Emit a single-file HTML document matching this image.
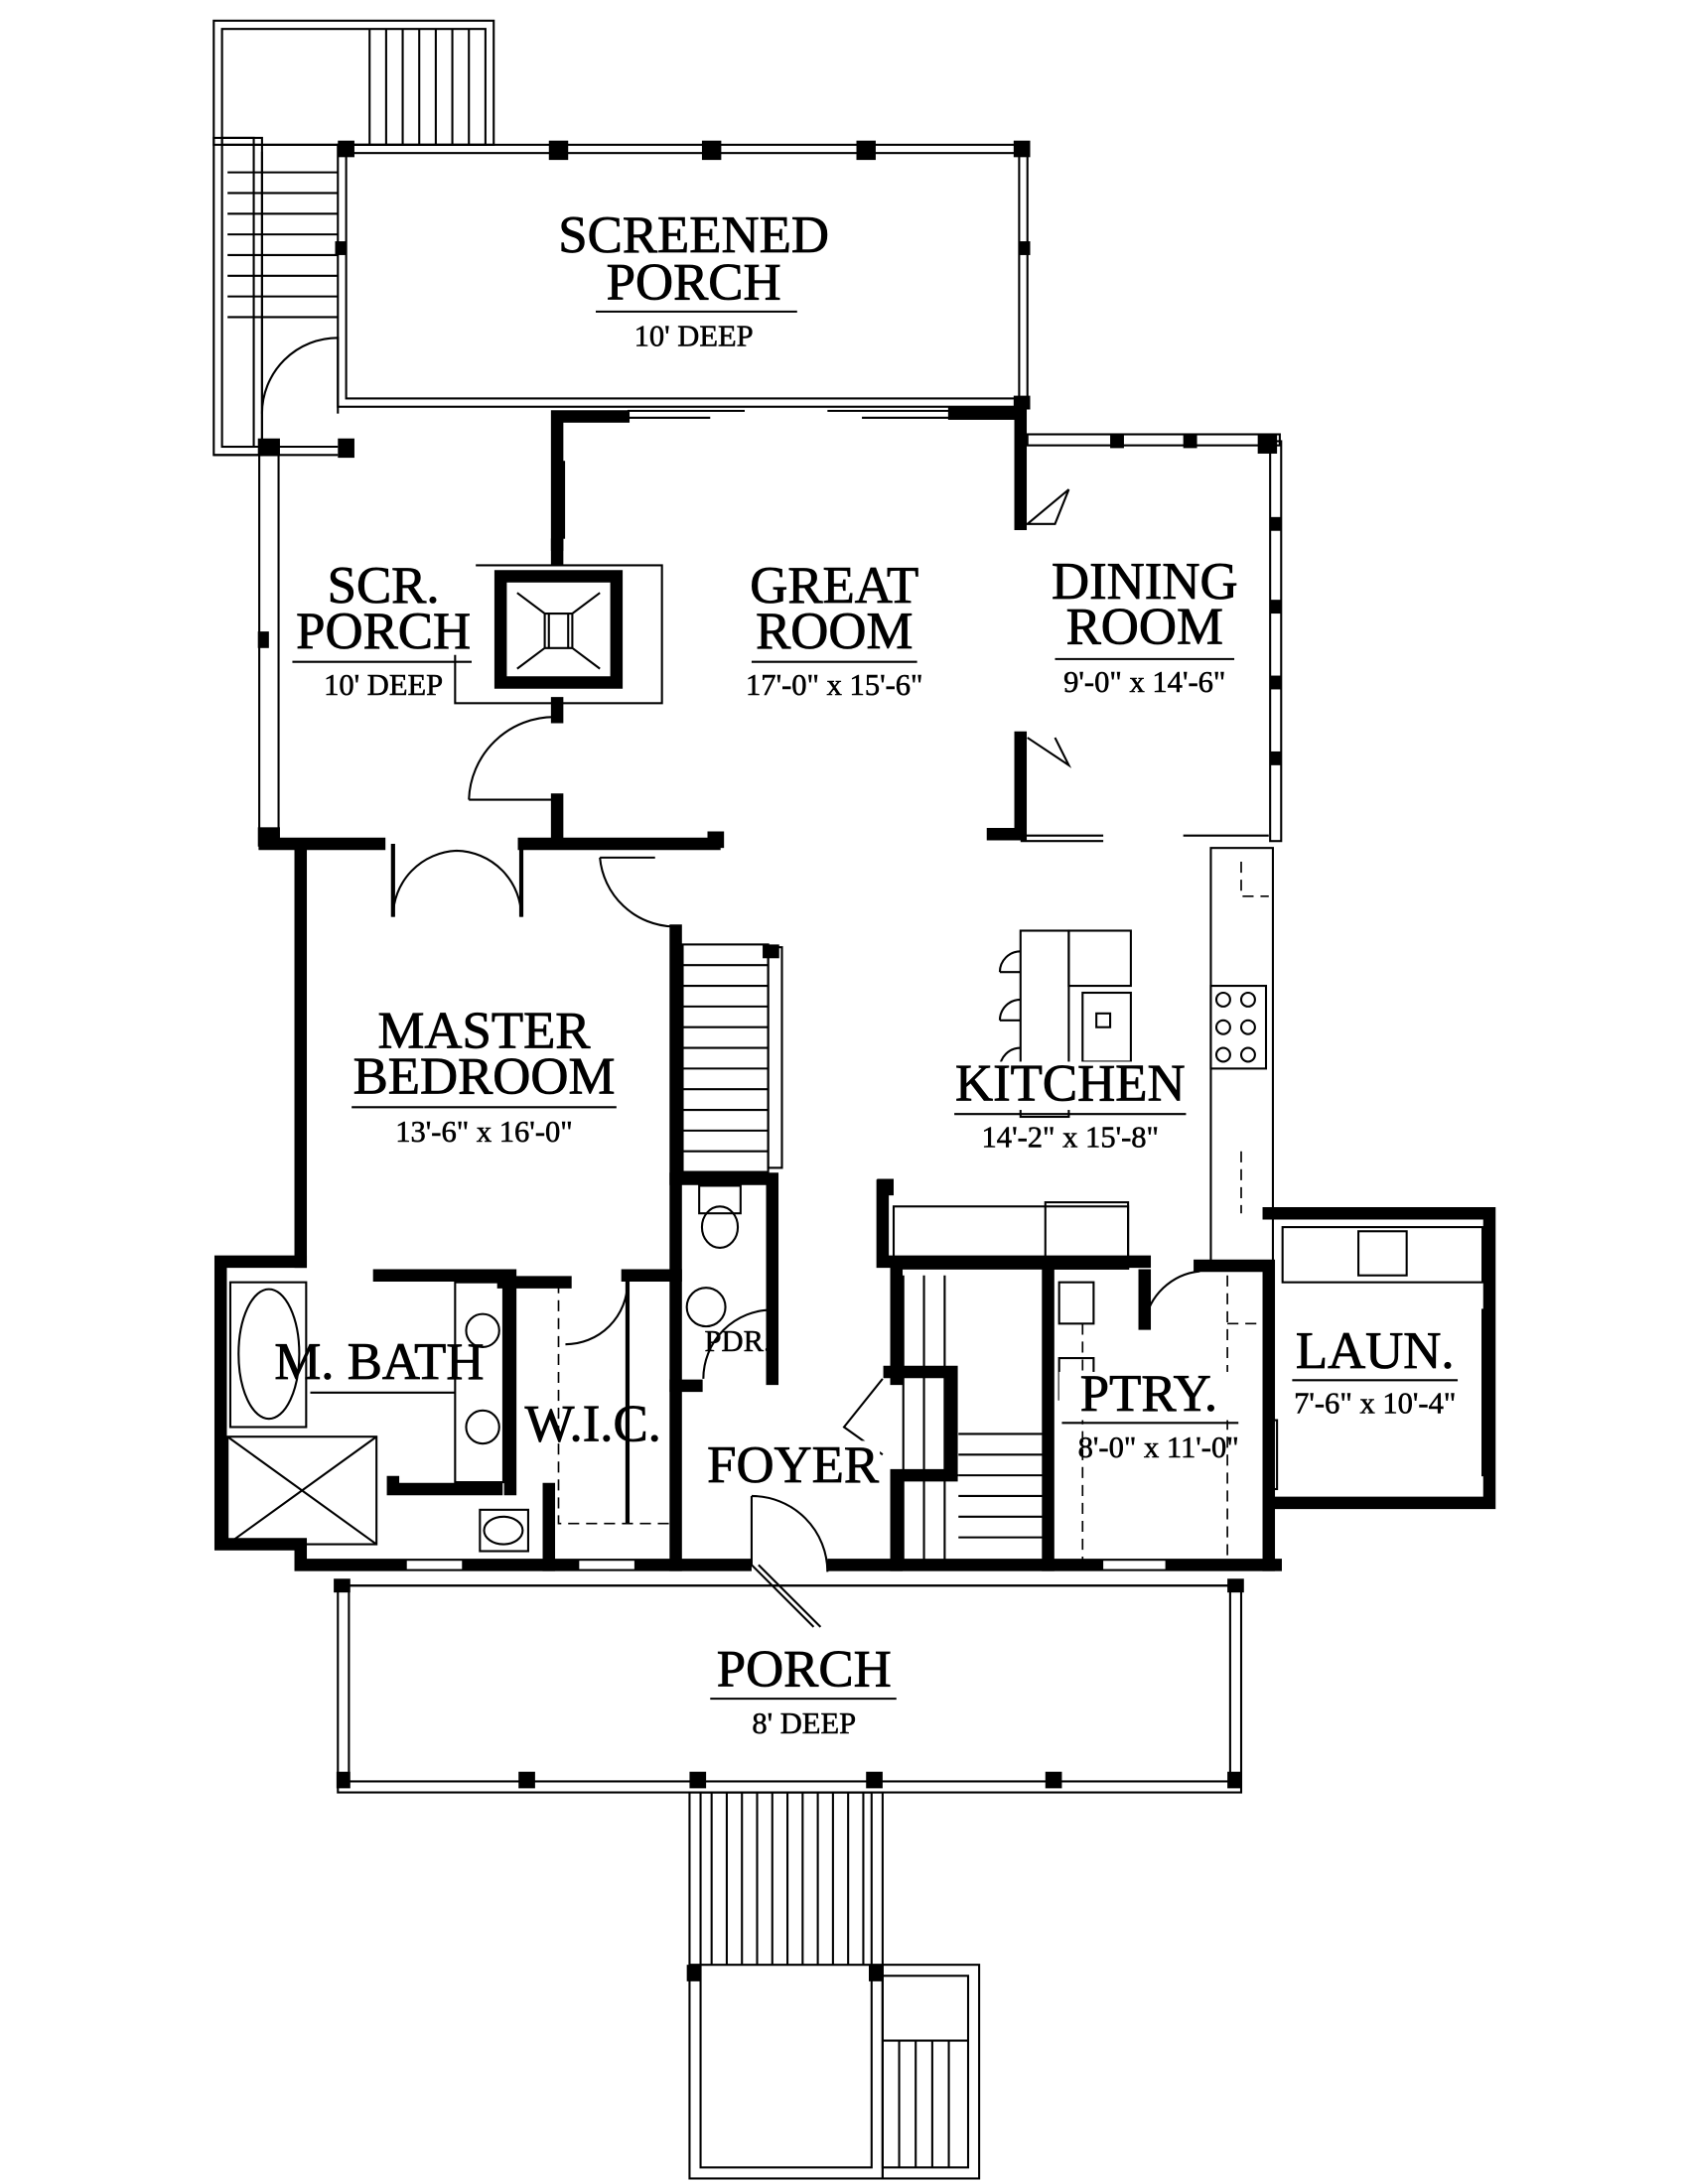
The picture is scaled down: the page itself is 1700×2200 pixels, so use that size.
<!DOCTYPE html>
<html><head><meta charset="utf-8"><style>
html,body{margin:0;padding:0;background:#fff;}
svg{display:block;}
text{font-family:"Liberation Serif",serif;fill:#000;text-anchor:middle;stroke:#000;stroke-width:0.6;}
.t{font-size:38px;}
.s{font-size:22px;stroke-width:0.4;}
.k{stroke:#000;stroke-width:9;fill:none;stroke-linecap:square;}
.n{stroke:#000;stroke-width:1.5;fill:none;}
.m{stroke:#000;stroke-width:3;fill:none;}
.d{stroke:#000;stroke-width:1.2;fill:none;stroke-dasharray:8,5;}
</style></head><body>
<svg width="1700" height="2200" viewBox="0 0 1224 1584" xmlns="http://www.w3.org/2000/svg">
<rect width="1224" height="1584" fill="#fff"/>
<!-- top-left stairs -->
<rect class="n" x="155" y="15" width="203" height="90"/>
<rect class="n" x="161" y="21" width="191" height="84"/>
<g class="n">
<line x1="268" y1="21" x2="268" y2="105"/><line x1="280" y1="21" x2="280" y2="105"/><line x1="292" y1="21" x2="292" y2="105"/><line x1="304" y1="21" x2="304" y2="105"/><line x1="316" y1="21" x2="316" y2="105"/><line x1="328" y1="21" x2="328" y2="105"/><line x1="340" y1="21" x2="340" y2="105"/>
</g>
<rect class="n" x="155" y="100" width="35" height="230"/>
<rect class="n" x="161" y="100" width="23" height="224"/>
<line class="n" x1="155" y1="330" x2="245" y2="330"/><line class="n" x1="161" y1="324" x2="245" y2="324"/>
<g class="n">
<line x1="165" y1="125" x2="245" y2="125"/><line x1="165" y1="140" x2="245" y2="140"/><line x1="165" y1="155" x2="245" y2="155"/><line x1="165" y1="170" x2="245" y2="170"/><line x1="165" y1="185" x2="245" y2="185"/><line x1="165" y1="200" x2="245" y2="200"/><line x1="165" y1="215" x2="245" y2="215"/><line x1="165" y1="230" x2="245" y2="230"/>
<line x1="190" y1="110" x2="190" y2="330"/>
</g>
<path class="n" d="M190,300 A55,55 0 0 1 245,245 L245,300"/>
<!-- screened porch -->
<rect class="n" x="245" y="105" width="500" height="190"/>
<rect class="n" x="251" y="111" width="488" height="178"/>
<g fill="#000">
<rect x="245" y="102" width="12" height="12"/><rect x="398" y="102" width="14" height="14"/><rect x="509" y="102" width="14" height="14"/><rect x="621" y="102" width="14" height="14"/><rect x="735" y="102" width="12" height="12"/>
<rect x="243" y="175" width="8" height="10"/><rect x="739" y="175" width="8" height="10"/>
<rect x="245" y="318" width="12" height="14"/><rect x="187" y="318" width="16" height="12"/><rect x="187" y="600" width="16" height="14"/><rect x="187" y="458" width="8" height="12"/>
<rect x="735" y="287" width="12" height="10"/>
<rect x="805" y="315" width="10" height="10"/><rect x="858" y="315" width="10" height="10"/><rect x="912" y="315" width="14" height="14"/>
<rect x="921" y="375" width="8" height="10"/><rect x="921" y="435" width="8" height="10"/><rect x="921" y="490" width="8" height="10"/><rect x="921" y="545" width="8" height="10"/>
<rect x="376" y="1285" width="12" height="12"/><rect x="758" y="1285" width="12" height="12"/><rect x="500" y="1285" width="12" height="12"/><rect x="628" y="1285" width="12" height="12"/>
<rect x="244" y="1285" width="10" height="12"/><rect x="890" y="1285" width="10" height="12"/>
<rect x="242" y="1145" width="12" height="10"/><rect x="890" y="1145" width="12" height="10"/>
<rect x="498" y="1425" width="10" height="12"/><rect x="630" y="1425" width="10" height="12"/>
<rect x="636" y="855" width="12" height="12"/><rect x="513" y="603" width="12" height="12"/><rect x="553" y="685" width="12" height="10"/>
</g>
<!-- scr porch left -->
<rect class="n" x="188" y="330" width="14" height="278"/>
<!-- great room walls -->
<path class="k" d="M404,395 V302 H452"/>
<path class="k" d="M692,300 H740 V380"/>
<path class="k" d="M740,535 V605 H720"/>
<rect class="n" x="401" y="335" width="8" height="55"/>
<g class="n"><line x1="455" y1="298" x2="540" y2="298"/><line x1="455" y1="303" x2="515" y2="303"/><line x1="600" y1="298" x2="690" y2="298"/><line x1="625" y1="303" x2="690" y2="303"/></g>
<path class="n" d="M745,380 L775,355 L765,380 Z"/>
<path class="n" d="M745,535 L775,555 L765,535"/>
<!-- dining -->
<rect class="n" x="745" y="315" width="183" height="8"/>
<rect class="n" x="921" y="320" width="8" height="290"/>
<g class="n"><line x1="740" y1="606" x2="800" y2="606"/><line x1="740" y1="610" x2="800" y2="610"/><line x1="858" y1="606" x2="920" y2="606"/></g>
<!-- fireplace -->
<rect class="n" x="330" y="410" width="150" height="100"/>
<path class="k" d="M363,418 H447 V495 H363 Z"/>
<path class="n" d="M375,430 L395,445 V470 L375,485 M435,430 L415,445 V470 L435,485 M395,445 H415 M395,470 H415 M398,445 V470 M412,445 V470"/>
<path class="k" d="M404,405 V395 M404,510 V520"/>
<path class="n" d="M340,580 A62,62 0 0 1 402,520 M340,580 H402"/>
<!-- bottom of great room -->
<path class="k" d="M192,612 H275 M380,612 H518 M404,612 V580 M218,612 V915"/>
<path class="m" d="M285,612 V665 M378,612 V665"/>
<path class="n" d="M285,665 A48,48 0 0 1 331,617 M378,665 A48,48 0 0 0 331,617"/>
<path class="n" d="M435,622 H475 M435,622 A55,55 0 0 0 488,672"/>
<!-- master/stairs wall -->
<path class="k" d="M490,675 V1135"/>
<rect class="n" x="495" y="685" width="62" height="165"/>
<g class="n"><line x1="495" y1="700" x2="557" y2="700"/><line x1="495" y1="715" x2="557" y2="715"/><line x1="495" y1="730" x2="557" y2="730"/><line x1="495" y1="745" x2="557" y2="745"/><line x1="495" y1="760" x2="557" y2="760"/><line x1="495" y1="775" x2="557" y2="775"/><line x1="495" y1="790" x2="557" y2="790"/><line x1="495" y1="805" x2="557" y2="805"/><line x1="495" y1="820" x2="557" y2="820"/><line x1="495" y1="835" x2="557" y2="835"/><rect x="557" y="687" width="10" height="160"/></g>
<!-- powder -->
<path class="k" d="M490,855 H560 V1000 M490,1005 H505"/>
<rect class="n" x="507" y="860" width="30" height="20"/><ellipse class="n" cx="522" cy="890" rx="13" ry="15"/>
<circle class="n" cx="512" cy="948" r="14"/>
<path class="n" d="M510,1000 A50,50 0 0 1 560,950"/>
<!-- master bath block -->
<path class="k" d="M218,915 H160 V1120 H218 V1135 H925"/>
<path class="k" d="M275,925 H365 M370,925 V1080 M365,930 H410 M455,925 H490 M285,1075 V1080 H360 M398,1080 V1135"/>
<rect class="n" x="167" y="930" width="55" height="105"/><ellipse class="n" cx="195" cy="982" rx="22" ry="47"/>
<rect class="n" x="165" y="1042" width="108" height="78"/><path class="n" d="M165,1042 L273,1120 M273,1042 L165,1120"/>
<line class="n" x1="225" y1="1010" x2="330" y2="1010"/>
<rect class="n" x="330" y="930" width="35" height="145"/><circle class="n" cx="350" cy="965" r="12"/><circle class="n" cx="350" cy="1035" r="12"/>
<rect class="n" x="348" y="1095" width="35" height="30"/><ellipse class="n" cx="365" cy="1110" rx="14" ry="10"/>
<path class="d" d="M405,930 V1105 H485"/>
<path class="n" d="M410,975 A45,45 0 0 0 455,930"/>
<path class="m" d="M455,925 V1105"/>
<!-- front walls & bottom -->
<path class="k" d="M640,860 V915 H830 M650,1000 V915 M760,925 V1135 M830,925 V960"/>
<rect class="n" x="648" y="875" width="170" height="45"/><rect class="n" x="758" y="872" width="60" height="48"/>
<g class="n"><line x1="655" y1="925" x2="655" y2="1135"/><line x1="670" y1="925" x2="670" y2="1135"/><line x1="685" y1="925" x2="685" y2="1135"/><line x1="695" y1="1070" x2="760" y2="1070"/><line x1="695" y1="1085" x2="760" y2="1085"/><line x1="695" y1="1100" x2="760" y2="1100"/><line x1="695" y1="1115" x2="760" y2="1115"/><line x1="695" y1="1040" x2="760" y2="1040"/><line x1="695" y1="1055" x2="760" y2="1055"/><line x1="655" y1="1070" x2="695" y2="1070"/></g>
<path class="k" d="M645,995 H690 V1070 H650 V1135"/>
<path class="n" d="M640,1000 L612,1035 L640,1055"/>
<!-- kitchen -->
<rect class="n" x="878" y="615" width="45" height="300"/>
<rect class="n" x="878" y="715" width="40" height="60"/>
<g class="n"><circle cx="887" cy="725" r="5"/><circle cx="905" cy="725" r="5"/><circle cx="887" cy="745" r="5"/><circle cx="905" cy="745" r="5"/><circle cx="887" cy="765" r="5"/><circle cx="905" cy="765" r="5"/></g>
<path class="d" d="M900,625 V650 H920 M900,835 V880"/>
<rect class="n" x="740" y="675" width="35" height="135"/><rect class="n" x="775" y="675" width="45" height="40"/>
<rect class="n" x="785" y="720" width="35" height="50"/><rect class="n" x="795" y="735" width="10" height="10"/>
<g class="n"><path d="M725,705 A15,15 0 0 1 740,690 M725,740 A15,15 0 0 1 740,725 M725,775 A15,15 0 0 1 740,760"/><line x1="725" y1="705" x2="740" y2="705"/><line x1="725" y1="740" x2="740" y2="740"/><line x1="725" y1="775" x2="740" y2="775"/></g>
<!-- pantry / laundry -->
<path class="k" d="M870,918 H920 V1135 M920,880 H1080 V1090 H925"/>
<path class="n" d="M830,960 A45,45 0 0 1 870,922"/>
<rect class="n" x="768" y="930" width="25" height="30"/><rect class="n" x="768" y="985" width="25" height="30"/>
<path class="d" d="M785,960 V1135 M890,925 V1135 M890,960 H915"/>
<rect class="n" x="930" y="890" width="145" height="40"/><rect class="n" x="985" y="893" width="35" height="32"/>
<rect class="n" x="1075" y="950" width="6" height="120"/>
<rect class="n" x="920" y="1030" width="6" height="50"/>
<!-- windows in bottom wall -->
<g fill="#fff"><rect x="295" y="1132" width="40" height="6"/><rect x="420" y="1132" width="40" height="6"/><rect x="545" y="1130" width="55" height="10"/><rect x="800" y="1132" width="45" height="6"/></g>
<path class="n" d="M545,1135 L590,1180 M550,1135 L595,1180 M545,1085 A55,55 0 0 1 600,1140 M545,1085 V1135"/>
<!-- front porch -->
<rect class="n" x="245" y="1150" width="655" height="150"/>
<rect class="n" x="253" y="1150" width="639" height="142"/>
<!-- front stairs -->
<rect class="n" x="500" y="1300" width="140" height="280"/>
<rect class="n" x="508" y="1300" width="124" height="272"/>
<g class="n"><line x1="516" y1="1300" x2="516" y2="1425"/><line x1="527" y1="1300" x2="527" y2="1425"/><line x1="538" y1="1300" x2="538" y2="1425"/><line x1="549" y1="1300" x2="549" y2="1425"/><line x1="560" y1="1300" x2="560" y2="1425"/><line x1="571" y1="1300" x2="571" y2="1425"/><line x1="582" y1="1300" x2="582" y2="1425"/><line x1="593" y1="1300" x2="593" y2="1425"/><line x1="604" y1="1300" x2="604" y2="1425"/><line x1="615" y1="1300" x2="615" y2="1425"/><line x1="626" y1="1300" x2="626" y2="1425"/><line x1="500" y1="1425" x2="640" y2="1425"/></g>
<rect class="n" x="640" y="1425" width="70" height="155"/><rect class="n" x="640" y="1433" width="62" height="139"/>
<g class="n"><line x1="640" y1="1480" x2="702" y2="1480"/><line x1="652" y1="1480" x2="652" y2="1572"/><line x1="664" y1="1480" x2="664" y2="1572"/><line x1="676" y1="1480" x2="676" y2="1572"/><line x1="688" y1="1480" x2="688" y2="1572"/></g>
<!-- labels -->
<g fill="#fff"><rect x="400" y="145" width="210" height="80"/><rect x="212" y="405" width="133" height="70"/><rect x="538" y="405" width="134" height="70"/><rect x="688" y="770" width="175" height="35"/><rect x="768" y="995" width="130" height="35"/><rect x="933" y="962" width="128" height="35"/><rect x="508" y="1045" width="130" height="35"/></g>
<text class="t" x="503" y="183">SCREENED</text>
<text class="t" x="503" y="217">PORCH</text>
<line class="n" x1="432" y1="226" x2="578" y2="226"/>
<text class="s" x="503" y="251">10' DEEP</text>
<text class="t" x="278" y="437">SCR.</text>
<text class="t" x="278" y="470">PORCH</text>
<line class="n" x1="212" y1="480" x2="342" y2="480"/>
<text class="s" x="278" y="504">10' DEEP</text>
<text class="t" x="605" y="437">GREAT</text>
<text class="t" x="605" y="470">ROOM</text>
<line class="n" x1="545" y1="480" x2="665" y2="480"/>
<text class="s" x="605" y="504">17'-0" x 15'-6"</text>
<text class="t" x="830" y="434">DINING</text>
<text class="t" x="830" y="467">ROOM</text>
<line class="n" x1="765" y1="478" x2="895" y2="478"/>
<text class="s" x="830" y="502">9'-0" x 14'-6"</text>
<text class="t" x="351" y="760">MASTER</text>
<text class="t" x="351" y="793">BEDROOM</text>
<line class="n" x1="255" y1="803" x2="447" y2="803"/>
<text class="s" x="351" y="828">13'-6" x 16'-0"</text>
<text class="t" x="776" y="798">KITCHEN</text>
<line class="n" x1="692" y1="808" x2="860" y2="808"/>
<text class="s" x="776" y="832">14'-2" x 15'-8"</text>
<text class="t" x="275" y="1000">M. BATH</text>
<text class="t" x="430" y="1045">W.I.C.</text>
<text class="s" x="535" y="980">PDR.</text>
<text class="t" x="575" y="1075">FOYER</text>
<text class="t" x="833" y="1023">PTRY.</text>
<line class="n" x1="770" y1="1032" x2="898" y2="1032"/>
<text class="s" x="840" y="1057">8'-0" x 11'-0"</text>
<text class="t" x="997" y="992">LAUN.</text>
<line class="n" x1="937" y1="1001" x2="1057" y2="1001"/>
<text class="s" x="997" y="1025">7'-6" x 10'-4"</text>
<text class="t" x="583" y="1223">PORCH</text>
<line class="n" x1="515" y1="1232" x2="650" y2="1232"/>
<text class="s" x="583" y="1257">8' DEEP</text>
</svg>
</body></html>
